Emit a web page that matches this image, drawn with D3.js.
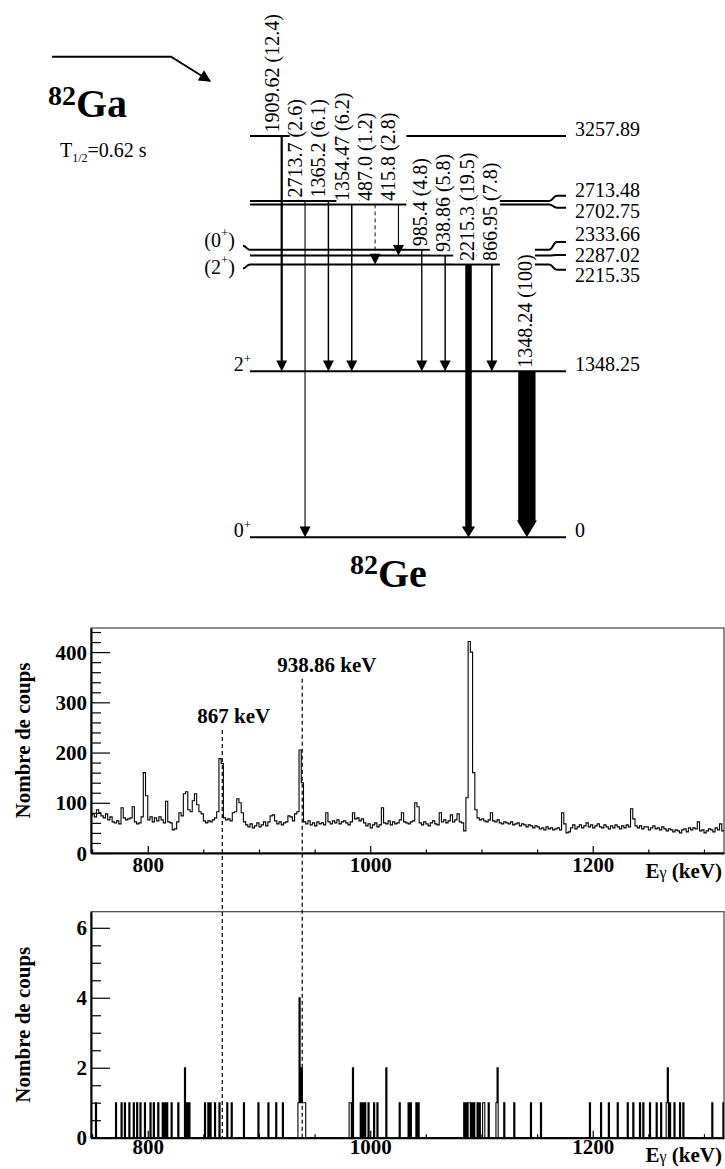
<!DOCTYPE html>
<html><head><meta charset="utf-8">
<script src="https://cdn.jsdelivr.net/npm/d3@7"></script>
<style>
body{margin:0;background:#fff}
svg{display:block}
text{font-family:"Liberation Serif","Times New Roman",serif;fill:#000}
</style>
</head><body>
<svg id="c" width="725" height="1169"></svg>
<script>
// ---------------- level scheme data ----------------
const levelEnergies = [0, 1348.25, 2215.35, 2287.02, 2333.66, 2702.75, 2713.48, 3257.89];
const levelLabels   = ["0", "1348.25", "2215.35", "2287.02", "2333.66", "2702.75", "2713.48", "3257.89"];
const levelSpins    = ["0+", "2+", "(2+)", "", "(0+)", "", "", ""];

const gammaLabels    = ["1909.62 (12.4)", "2713.7 (2.6)", "1365.2 (6.1)", "1354.47 (6.2)", "487.0 (1.2)", "415.8 (2.8)",
                        "985.4 (4.8)", "938.86 (5.8)", "2215.3 (19.5)", "866.95 (7.8)", "1348.24 (100)"];
const gammaIntensity = [12.4, 2.6, 6.1, 6.2, 1.2, 2.8, 4.8, 5.8, 19.5, 7.8, 100];
const gammaFrom      = [3257.89, 2713.48, 2713.48, 2702.75, 2702.75, 2702.75, 2333.66, 2287.02, 2215.35, 2215.35, 1348.25];
const gammaTo        = [1348.25, 0, 1348.25, 1348.25, 2215.35, 2287.02, 1348.25, 1348.25, 0, 1348.25, 0];
const gammaColumn    = [0, 1, 2, 3, 4, 5, 6, 7, 8, 9, 10.5];
const gammaTentative = [false, false, false, false, true, false, false, false, false, false, false];

// ---------------- spectra data ----------------
// singles spectrum, 2 keV bins starting at 748 keV
const singlesStart = 748, singlesBin = 2;
const singlesCounts = [
  74,78,72,86,80,74,70,78,66,72,
  62,60,64,58,90,70,66,68,70,92,
  62,58,60,72,160,114,66,72,62,70,
  64,72,66,60,103,62,60,46,48,62,
  80,74,118,122,86,82,104,118,96,82,
  78,64,60,64,62,66,70,82,188,178,
  70,66,68,64,80,82,108,100,80,62,
  56,52,58,50,54,60,52,56,62,54,
  62,74,76,64,58,62,56,60,62,74,
  72,64,78,82,205,140,62,58,64,56,
  60,54,62,58,60,56,80,62,58,64,
  60,66,58,62,64,60,56,62,80,68,
  70,64,68,60,54,58,50,56,60,52,
  56,90,60,58,64,56,62,58,60,66,
  80,62,60,58,62,64,100,92,60,56,
  62,58,54,60,64,58,56,80,62,66,
  60,64,76,62,66,78,62,60,44,110,
  421,400,160,86,70,66,68,64,62,66,
  80,64,62,66,60,58,62,60,58,62,
  56,58,60,54,58,56,52,56,54,50,
  54,52,48,50,46,52,48,50,46,48,
  50,46,80,58,40,42,50,56,48,52,
  56,50,54,60,52,56,50,54,58,52,
  50,56,52,48,54,50,56,52,48,54,
  50,56,52,88,68,54,50,54,48,52,
  52,46,50,54,48,50,46,52,48,44,
  48,46,42,46,44,40,46,48,42,50,
  46,50,48,62,44,46,40,44,48,46,
  42,50,46,58,44
];
// coincidence spectrum (gated), 1 keV bins: non-empty bins
const coincEnergies = [753,771,776,779,783,787,790,793,797,802,805,809,813,815,817,821,827,833,835,837,
  851,854,856,860,864,871,875,886,899,908,915,921,
  935,936,937,938,939,940,941,
  981,982,984,991,993,995,998,1003,1006,1014,1026,1034,1036,1041,1043,
  1084,1086,1088,1089,1091,1093,1096,1098,1101,1102,1106,1113,1114,1120,1129,1144,1153,
  1197,1207,1214,1222,1231,1236,1242,1245,1251,1257,1261,1266,1267,1269,1273,1278,1281,1307,1317];
const coincCounts = [1,1,1,1,1,1,1,1,1,1,1,1,1,1,1,1,1,2,1,1,
  1,1,1,1,1,1,1,1,1,1,1,1,
  1,4,1,2,1,1,1,
  1,1,2,1,1,1,1,1,1,2,1,1,1,1,1,
  1,1,1,1,1,1,1,1,1,1,1,1,2,1,1,1,1,
  1,1,1,1,1,1,1,1,1,1,1,1,2,1,1,1,1,1,1];
const coincStart = 748, coincEnd = 1318, coincBin = 1;

const xTickMajor = [800, 1000, 1200];
const singlesTicks = [0, 100, 200, 300, 400];
const coincTicks = [0, 2, 4, 6];
const markerEnergies = [867, 938.86];
const markerLabels = ["867 keV", "938.86 keV"];
const markerTopCounts = [245, 347];

// ---------------- drawing ----------------
const svg = d3.select("#c");

// ======== level scheme ========
const nL = levelEnergies.length;
const yLevRaw = d3.scaleLinear().domain([0, 3257.89]).range([537.3, 136]);
const levY = new Array(nL);
{
  const ord = d3.range(nL).sort((a, b) => levelEnergies[a] - levelEnergies[b]);
  let prev = null;
  ord.forEach(i => {
    let y = yLevRaw(levelEnergies[i]);
    if (prev !== null && prev - y < 3.4) y = prev - 3.4;
    levY[i] = y; prev = y;
  });
}
const yOf = e => levY[levelEnergies.indexOf(e)];
const LX0 = 250, LXB = 549, LXE = 566;

// right label groups
const byY = d3.range(nL).sort((a, b) => levY[a] - levY[b]);
const groups = [];
byY.forEach(i => {
  const g = groups[groups.length - 1];
  if (g && levY[i] - levY[g[g.length - 1]] < 20) g.push(i); else groups.push([i]);
});
const labC = [], grouped = [];
groups.forEach(g => {
  if (g.length === 1) { labC[g[0]] = levY[g[0]] - 7; grouped[g[0]] = false; }
  else {
    const m = d3.mean(g, i => levY[i]) - 2;
    g.forEach((i, k) => { labC[i] = m + (k - (g.length - 1) / 2) * 20.5; grouped[i] = true; });
  }
});

const gLev = svg.append("g");
gLev.selectAll("path.lev").data(d3.range(nL)).join("path")
  .attr("fill", "none").attr("stroke", "#000").attr("stroke-width", 2)
  .attr("d", i => {
    const y = levY[i];
    if (!grouped[i]) return `M${LX0},${y}H${LXE}`;
    const fy = y + 0.5 * (labC[i] - y);
    return `M${LX0},${y}H${LXB}C${LXB + 4},${y} ${LXB + 4},${fy} ${LXB + 8},${fy}H${LXE}`;
  });
gLev.selectAll("text.elab").data(d3.range(nL)).join("text")
  .attr("x", 575).attr("y", i => labC[i]).attr("dominant-baseline", "central")
  .attr("font-size", 20).text(i => levelLabels[i]);

// spin labels (left)
function spinText(sel, s) {
  const parts = s.split("+");
  sel.append("tspan").text(parts[0]);
  if (parts.length > 1) {
    sel.append("tspan").attr("font-size", 13).attr("dy", -8).text("+");
    sel.append("tspan").attr("dy", 8).text(parts[1]);
  }
}
const spinIdx = byY.filter(i => levelSpins[i]);
const sGroups = [];
spinIdx.forEach(i => {
  const g = sGroups[sGroups.length - 1];
  if (g && levY[i] - levY[g[g.length - 1]] < 30) g.push(i); else sGroups.push([i]);
});
sGroups.forEach(g => {
  if (g.length === 1) {
    const i = g[0];
    const t = gLev.append("text").attr("x", 251).attr("y", levY[i]).attr("text-anchor", "end").attr("font-size", 20);
    spinText(t, levelSpins[i]);
  } else {
    const m = d3.mean(g, i => levY[i]) - 4;
    g.forEach((i, k) => {
      const c = m + (k - (g.length - 1) / 2) * 27;
      const y = levY[i];
      const ty = y + Math.sign(c - y) * 4;
      gLev.append("path").attr("fill", "none").attr("stroke", "#000").attr("stroke-width", 2)
        .attr("d", `M${LX0},${y}C${LX0 - 3},${y} ${LX0 - 4},${ty} ${LX0 - 7},${ty}`);
      const t = gLev.append("text").attr("x", 235).attr("y", c).attr("text-anchor", "end")
        .attr("dominant-baseline", "central").attr("font-size", 20);
      spinText(t, levelSpins[i]);
    });
  }
});

// transitions
const xCol = d3.scaleLinear().domain([0, 10]).range([281.7, 515.2]);
const wScale = d3.scaleLinear().domain([0, 12.4, 19.5, 100]).range([0.8, 2.2, 6.5, 17.3]);
const hwScale = d3.scaleLinear().domain([0, 12.4, 19.5, 100]).range([11, 11, 13.3, 20]);
const hhScale = d3.scaleLinear().domain([0, 19.5, 100]).range([10.7, 10.7, 16.7]);

const gBox = svg.append("g");
const gLab = svg.append("g");
const gArr = svg.append("g");
const nG = gammaLabels.length;
let prevRight = null;
d3.range(nG).forEach(j => {
  const ax = xCol(gammaColumn[j]);
  const y1 = yOf(gammaFrom[j]), y2 = yOf(gammaTo[j]);
  const anchorX = gammaFrom[j] > 2500 ? ax - 3 : ax + 5;
  const ty = y1 - 3.5;
  const t = gLab.append("text").attr("transform", `translate(${anchorX},${ty}) rotate(-90)`)
    .attr("font-size", 20).text(gammaLabels[j]);
  const L = t.node().getComputedTextLength();
  const bl = prevRight === null ? ax - 16 : prevRight;
  const br = ax + 8;
  prevRight = br;
  const top = ty - L - 9;
  gBox.append("rect").attr("x", bl).attr("width", br - bl).attr("y", top).attr("height", (y1 - 1.3) - top)
    .attr("fill", "#fff");
  const w = wScale(gammaIntensity[j]), hw = hwScale(gammaIntensity[j]), hh = hhScale(gammaIntensity[j]);
  gArr.append("line").attr("x1", ax).attr("x2", ax).attr("y1", y1).attr("y2", y2 - hh + 0.5)
    .attr("stroke", "#000").attr("stroke-width", w)
    .attr("stroke-dasharray", gammaTentative[j] ? "4,3" : null);
  gArr.append("path").attr("fill", "#000")
    .attr("d", `M${ax - hw / 2},${y2 - hh}L${ax + hw / 2},${y2 - hh}L${ax},${y2}Z`);
});

// decay arrow + nuclei names
svg.append("defs").append("marker").attr("id", "ah").attr("viewBox", "0 0 10 10")
  .attr("refX", 9).attr("refY", 5).attr("markerWidth", 7).attr("markerHeight", 6)
  .attr("markerUnits", "strokeWidth").attr("orient", "auto")
  .append("path").attr("d", "M0,0L10,5L0,10Z").attr("fill", "#000");
svg.append("path").attr("d", "M52,56.7H171L210,81").attr("fill", "none").attr("stroke", "#000")
  .attr("stroke-width", 2).attr("marker-end", "url(#ah)");

const ga = svg.append("text").attr("x", 48).attr("y", 117).attr("font-weight", "bold");
ga.append("tspan").attr("font-size", 28).attr("dy", -12).text("82");
ga.append("tspan").attr("font-size", 40).attr("dy", 12).text("Ga");
const th = svg.append("text").attr("x", 60).attr("y", 157).attr("font-size", 20);
th.append("tspan").text("T");
th.append("tspan").attr("font-size", 12).attr("dy", 5).text("1/2");
th.append("tspan").attr("dy", -5).text("=0.62 s");
const ge = svg.append("text").attr("x", 350).attr("y", 586.7).attr("font-weight", "bold");
ge.append("tspan").attr("font-size", 28).attr("dy", -12.7).text("82");
ge.append("tspan").attr("font-size", 40).attr("dy", 12.7).text("Ge");

// ======== spectra ========
const X0 = 91, X1 = 724;
const xE = d3.scaleLinear().domain([749, 1318]).range([X0, X1]);
const yS = d3.scaleLinear().domain([0, 448]).range([853, 628]);
const yC = d3.scaleLinear().domain([0, 6.46]).range([1137.7, 911.7]);

function panel(y, yTicks, yMinor, data, clipId, xPad, titleDy) {
  const [yb, yt] = y.range();
  svg.append("clipPath").attr("id", clipId).append("rect")
    .attr("x", X0).attr("y", yt).attr("width", X1 - X0).attr("height", yb - yt);
  svg.append("rect").attr("x", X0).attr("y", yt).attr("width", X1 - X0).attr("height", yb - yt)
    .attr("fill", "none").attr("stroke", "#444").attr("stroke-width", 1.2);
  const line = d3.line().x(d => xE(d[0])).y(d => y(d[1])).curve(d3.curveStepAfter);
  svg.append("path").attr("clip-path", `url(#${clipId})`).attr("d", line(data))
    .attr("fill", "none").attr("stroke", "#000").attr("stroke-width", 1.1);
  // y axis
  const ga1 = svg.append("g").attr("transform", `translate(${X0},0)`)
    .call(d3.axisLeft(y).tickValues(yTicks).tickSizeInner(-19).tickSizeOuter(0).tickPadding(4).tickFormat(d3.format("d")));
  svg.append("g").attr("transform", `translate(${X0},0)`)
    .call(d3.axisLeft(y).tickValues(yMinor).tickSizeInner(-10).tickSizeOuter(0).tickFormat(""))
    .call(g => g.select(".domain").remove());
  // x axis
  const gx = svg.append("g").attr("transform", `translate(0,${yb})`)
    .call(d3.axisBottom(xE).tickValues(xTickMajor).tickSizeInner(-7).tickSizeOuter(0).tickPadding(xPad).tickFormat(d3.format("d")));
  svg.append("g").attr("transform", `translate(0,${yb})`)
    .call(d3.axisBottom(xE).tickValues(d3.range(750, 1318, 50).filter(v => !xTickMajor.includes(v)))
      .tickSizeInner(-3.5).tickSizeOuter(0).tickFormat(""))
    .call(g => g.select(".domain").remove());
  [ga1, gx].forEach(g => {
    g.select(".domain").attr("stroke-width", 2);
    g.selectAll(".tick text").attr("font-family", '"Liberation Serif","Times New Roman",serif')
      .attr("font-size", 21).attr("font-weight", "bold").attr("fill", "#000");
  });
  svg.selectAll(".tick line").attr("stroke-width", 1.2);
  ga1.selectAll(".tick text").attr("dy", "0.34em");
  // axis titles
  svg.append("text").attr("transform", `translate(23.3,${(yb + yt) / 2}) rotate(-90)`)
    .attr("text-anchor", "middle").attr("dominant-baseline", "central")
    .attr("font-size", 21).attr("font-weight", "bold").text("Nombre de coups");
  const et = svg.append("text").attr("x", 722).attr("y", yb + titleDy).attr("text-anchor", "end")
    .attr("font-size", 21).attr("font-weight", "bold");
  et.append("tspan").text("E");
  et.append("tspan").attr("font-weight", "normal").attr("font-size", 16).text("γ");
  et.append("tspan").text(" (keV)");
}

const singlesData = singlesCounts.map((c, i) => [singlesStart + i * singlesBin, c]);
singlesData.push([singlesStart + singlesCounts.length * singlesBin, singlesCounts[singlesCounts.length - 1]]);
const coincFull = d3.range(coincStart, coincEnd, coincBin).map(e => {
  const k = coincEnergies.indexOf(e);
  return [e, k >= 0 ? coincCounts[k] : 0];
});
coincFull.push([coincEnd, 0]);

panel(yS, singlesTicks, d3.range(0, 448, 20).filter(v => v % 100 !== 0), singlesData, "clipS", 4, 25);
panel(yC, coincTicks, d3.range(0, 6.46, 0.5).filter(v => v % 2 !== 0), coincFull, "clipC", 1, 24);

// marker lines and labels
markerEnergies.forEach((e, k) => {
  const x = xE(e);
  const yt = yS(markerTopCounts[k]);
  svg.append("line").attr("x1", x).attr("x2", x).attr("y1", yt).attr("y2", yC(0))
    .attr("stroke", "#000").attr("stroke-width", 1.2).attr("stroke-dasharray", "4,3");
  svg.append("text").attr("x", x - 25).attr("y", yt - 7).attr("font-size", 21).attr("font-weight", "bold")
    .text(markerLabels[k]);
});
</script>
</body></html>
